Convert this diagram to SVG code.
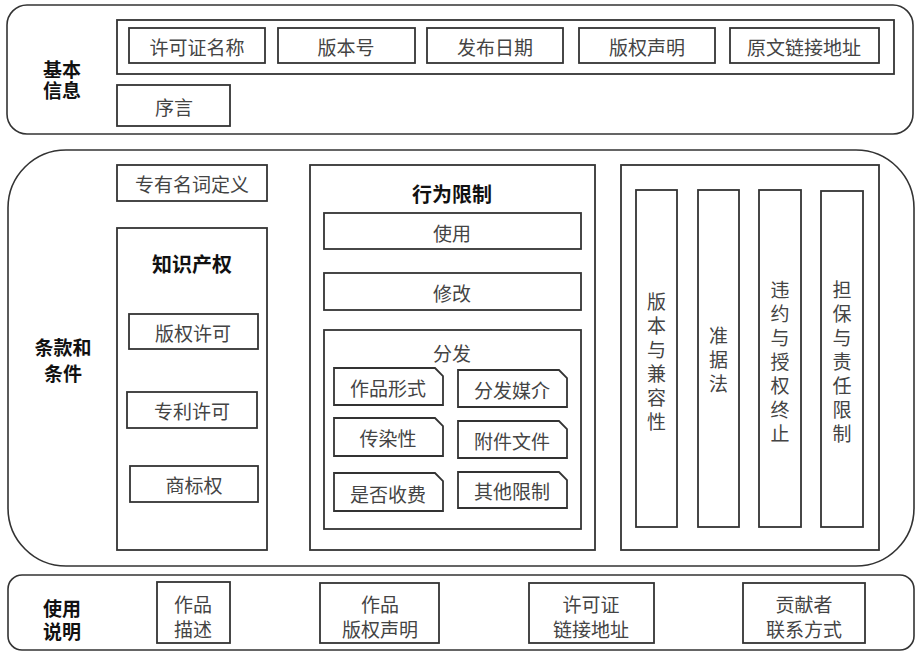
<svg xmlns="http://www.w3.org/2000/svg" width="916" height="652" viewBox="0 0 916 652">
<style>
.sec{fill:#fff;stroke:#333;stroke-width:1.6}
.box{fill:#fff;stroke:#333;stroke-width:1.8}
.t{font-family:"Noto Sans CJK SC","Noto Sans CJK JP",sans-serif;font-size:19px;fill:#444;text-anchor:middle;dominant-baseline:central}
.b{font-family:"Noto Sans CJK SC","Noto Sans CJK JP",sans-serif;font-size:19px;font-weight:bold;fill:#111;text-anchor:middle;dominant-baseline:central}
</style>
<rect width="916" height="652" fill="#fff"/>
<g id="basic">
<rect class="sec" x="7" y="5" width="906" height="129" rx="20"/>
<text class="b" x="62" y="68">基本</text><text class="b" x="62" y="89">信息</text>
<rect class="box" x="117" y="20" width="777" height="54"/>
<g id="n-license-name"><rect class="box" x="129" y="28" width="136" height="35"/><text class="t" x="197" y="46">许可证名称</text></g>
<g id="n-version"><rect class="box" x="278" y="28" width="137" height="35"/><text class="t" x="346" y="46">版本号</text></g>
<g id="n-date"><rect class="box" x="427" y="28" width="136" height="35"/><text class="t" x="495" y="46">发布日期</text></g>
<g id="n-copyright"><rect class="box" x="579" y="28" width="136" height="35"/><text class="t" x="647" y="46">版权声明</text></g>
<g id="n-url"><rect class="box" x="730" y="28" width="149" height="35"/><text class="t" x="804" y="46">原文链接地址</text></g>
<g id="n-preface"><rect class="box" x="117" y="85" width="113" height="41"/><text class="t" x="174" y="106">序言</text></g>
</g>
<g id="terms">
<rect class="sec" x="8" y="150" width="906" height="416" rx="58"/>
<text class="b" x="63" y="346">条款和</text><text class="b" x="63" y="372">条件</text>
<g id="n-defs"><rect class="box" x="117" y="165" width="150" height="36"/><text class="t" x="192" y="183">专有名词定义</text></g>
<g id="n-ip">
<rect class="box" x="117" y="228" width="150" height="322"/>
<text class="b" x="192" y="263" style="font-size:20px">知识产权</text>
<g id="n-copy-lic"><rect class="box" x="129" y="314" width="129" height="35"/><text class="t" x="193" y="332">版权许可</text></g>
<g id="n-patent"><rect class="box" x="127" y="392" width="130" height="36"/><text class="t" x="192" y="410">专利许可</text></g>
<g id="n-trademark"><rect class="box" x="130" y="466" width="128" height="36"/><text class="t" x="194" y="484">商标权</text></g>
</g>
<g id="n-behavior">
<rect class="box" x="310" y="165" width="285" height="385"/>
<text class="b" x="452" y="193" style="font-size:20px">行为限制</text>
<g id="n-use"><rect class="box" x="324" y="213" width="257" height="36"/><text class="t" x="452" y="232">使用</text></g>
<g id="n-modify"><rect class="box" x="324" y="273" width="257" height="37"/><text class="t" x="452" y="292">修改</text></g>
<g id="n-distribute">
<rect class="box" x="324" y="330" width="257" height="199"/>
<text class="t" x="452" y="352">分发</text>
<g id="n-form"><path class="box" d="M334,368 H435 L443,376 V405 H334 Z"/><text class="t" x="388" y="387">作品形式</text></g>
<g id="n-media"><path class="box" d="M458,370 H559 L567,378 V407 H458 Z"/><text class="t" x="512" y="389">分发媒介</text></g>
<g id="n-viral"><path class="box" d="M334,418 H435 L443,426 V456 H334 Z"/><text class="t" x="388" y="437">传染性</text></g>
<g id="n-attach"><path class="box" d="M458,421 H559 L567,429 V458 H458 Z"/><text class="t" x="512" y="440">附件文件</text></g>
<g id="n-fee"><path class="box" d="M334,473 H435 L443,481 V511 H334 Z"/><text class="t" x="388" y="493">是否收费</text></g>
<g id="n-other"><path class="box" d="M458,472 H559 L567,480 V508 H458 Z"/><text class="t" x="512" y="490">其他限制</text></g>
</g>
</g>
<g id="n-right">
<rect class="box" x="621" y="165" width="258" height="385"/>
<g id="n-compat"><rect class="box" x="636" y="190" width="41" height="337"/>
<text class="t" x="656.5" y="300">版</text><text class="t" x="656.5" y="324">本</text><text class="t" x="656.5" y="348">与</text><text class="t" x="656.5" y="372">兼</text><text class="t" x="656.5" y="396">容</text><text class="t" x="656.5" y="420">性</text></g>
<g id="n-law"><rect class="box" x="698" y="190" width="41" height="337"/>
<text class="t" x="718.5" y="334">准</text><text class="t" x="718.5" y="358">据</text><text class="t" x="718.5" y="382">法</text></g>
<g id="n-breach"><rect class="box" x="759" y="190" width="42" height="337"/>
<text class="t" x="780" y="288">违</text><text class="t" x="780" y="312">约</text><text class="t" x="780" y="336">与</text><text class="t" x="780" y="360">授</text><text class="t" x="780" y="384">权</text><text class="t" x="780" y="408">终</text><text class="t" x="780" y="432">止</text></g>
<g id="n-warranty"><rect class="box" x="821" y="191" width="42" height="336"/>
<text class="t" x="842" y="288">担</text><text class="t" x="842" y="312">保</text><text class="t" x="842" y="336">与</text><text class="t" x="842" y="360">责</text><text class="t" x="842" y="384">任</text><text class="t" x="842" y="408">限</text><text class="t" x="842" y="432">制</text></g>
</g>
</g>
<g id="usage">
<rect class="sec" x="8" y="575" width="906" height="75" rx="14"/>
<text class="b" x="62" y="607">使用</text><text class="b" x="62" y="630">说明</text>
<g id="n-desc"><rect class="box" x="157" y="582" width="73" height="61"/><text class="t" x="193" y="603">作品</text><text class="t" x="193" y="628">描述</text></g>
<g id="n-work-copy"><rect class="box" x="320" y="583" width="119" height="60"/><text class="t" x="380" y="603">作品</text><text class="t" x="380" y="628">版权声明</text></g>
<g id="n-lic-url"><rect class="box" x="529" y="583" width="125" height="60"/><text class="t" x="591" y="603">许可证</text><text class="t" x="591" y="628">链接地址</text></g>
<g id="n-contact"><rect class="box" x="743" y="583" width="122" height="60"/><text class="t" x="804" y="603">贡献者</text><text class="t" x="804" y="628">联系方式</text></g>
</g>
<g id="connectors"></g>
</svg>
